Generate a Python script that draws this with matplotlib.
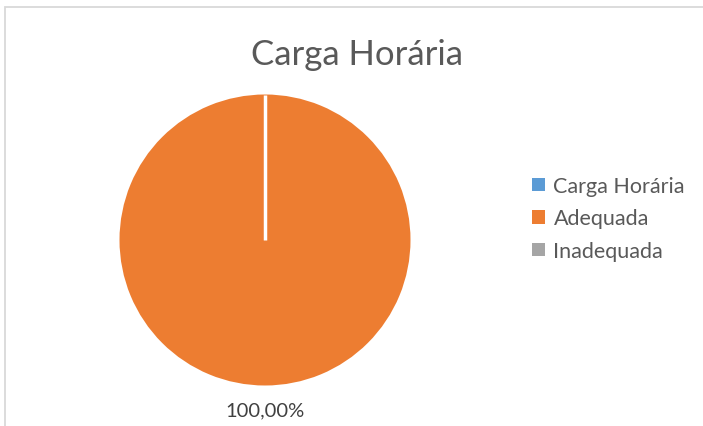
import matplotlib
matplotlib.use('Agg')
import matplotlib.pyplot as plt
import numpy as np
from matplotlib.patches import Rectangle, Patch

# data
categories = ['Carga Horária', 'Adequada', 'Inadequada']
values = [0, 100, 0]
colors = ['#5B9BD5', '#ED7D31', '#A5A5A5']
title = 'Carga Horária'

plt.rcParams['font.family'] = ['Lato', 'DejaVu Sans']

fig = plt.figure(figsize=(7.03, 4.27), dpi=100)

# chart area border (only top and left visible)
fig.add_artist(Rectangle((4.5 / 703, -0.1), 1.2, 1 - 7.5 / 427 + 0.1,
                         transform=fig.transFigure, fill=False,
                         edgecolor='#D9D9D9', linewidth=1.3))

ax = fig.add_axes([119.5 / 703, 40.5 / 427, 291 / 703, 291 / 427])


def fmt(p):
    if p <= 0:
        return ''
    return ('%.2f' % p).replace('.', ',') + '%'


wedges, texts, autotexts = ax.pie(values, colors=colors, startangle=90,
                                  counterclock=False, autopct=fmt,
                                  pctdistance=1.165, radius=1,
                                  wedgeprops=dict(linewidth=0))
for t in autotexts:
    t.set_fontsize(14.5)
    t.set_color('#404040')

# white separator at the start of the full wedge
w = wedges[1]
ang = np.deg2rad(90)
ax.plot([0, w.r * np.cos(ang)], [0, w.r * np.sin(ang)], color='white',
        linewidth=2.5, solid_capstyle='butt')

ax.set_xlim(-1, 1)
ax.set_ylim(-1, 1)
ax.set_aspect('equal')
ax.axis('off')

fig.text(357 / 703, 1 - 55 / 427, title, ha='center', va='center',
         fontsize=25, color='#595959')

handles = [Patch(facecolor=c, edgecolor='none') for c in colors]
fig.legend(handles, categories, loc='center left',
           bbox_to_anchor=(513 / 703, 1 - 219.5 / 427), frameon=False,
           fontsize=15.5, labelcolor='#595959', handlelength=0.58,
           handleheight=0.58, handletextpad=0.4, labelspacing=0.58)

fig.savefig('out.png', dpi=100, facecolor='white')
